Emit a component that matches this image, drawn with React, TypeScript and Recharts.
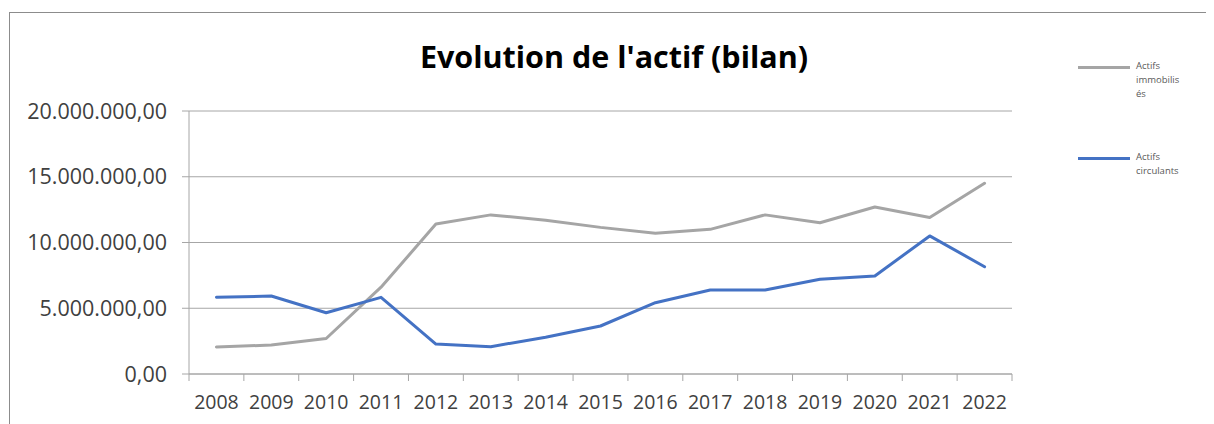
import React from "react";
import { LineChart, Line, XAxis, YAxis, CartesianGrid, Legend } from "recharts";

const years = ["2008", "2009", "2010", "2011", "2012", "2013", "2014", "2015", "2016", "2017", "2018", "2019", "2020", "2021", "2022"];
const actifsImmobilises = [2050000, 2200000, 2700000, 6600000, 11400000, 12100000, 11700000, 11150000, 10700000, 11000000, 12100000, 11500000, 12700000, 11900000, 14500000];
const actifsCirculants = [5830000, 5930000, 4660000, 5830000, 2280000, 2080000, 2800000, 3650000, 5420000, 6390000, 6390000, 7200000, 7450000, 10500000, 8160000];
const yTicks = [0, 5000000, 10000000, 15000000, 20000000];
const seriesOrder = ["immo", "circ"];

const GRID = "#a6a6a6";
const TEXT = "#404040";
const FONT = "'Open Sans', sans-serif";

const data = years.map((y, i) => ({
  idx: i,
  year: y,
  immo: actifsImmobilises[i],
  circ: actifsCirculants[i],
}));

// ticks at category centres (labels) and boundaries (tick marks)
const xTicks: number[] = [];
for (let i = 0; i <= years.length; i++) {
  xTicks.push(i - 0.5);
  if (i < years.length) xTicks.push(i);
}

const fmtY = (v: number) =>
  v.toLocaleString("de-DE", { minimumFractionDigits: 2, maximumFractionDigits: 2 });

function XTick(props: any) {
  const { x, y, payload } = props;
  const v = payload.value;
  if (Number.isInteger(v)) {
    return (
      <text x={x} y={y + 35} textAnchor="middle" fill={TEXT} fontSize={19.5} fontFamily={FONT}>
        {years[v]}
      </text>
    );
  }
  return <line x1={x} y1={y} x2={x} y2={y + 7} stroke={GRID} />;
}

function renderLegend(props: any) {
  const items = [...(props.payload || [])].sort(
    (a: any, b: any) => seriesOrder.indexOf(a.dataKey) - seriesOrder.indexOf(b.dataKey)
  );
  return (
    <div style={{ fontFamily: FONT }}>
      {items.map((p: any) => (
        <div key={p.value} style={{ display: "flex", alignItems: "flex-start", height: 91 }}>
          <div style={{ width: 52, height: 3, background: p.color, marginTop: 7 }} />
          <div
            style={{
              marginLeft: 6,
              width: 45,
              fontSize: 9.5,
              lineHeight: "14px",
              color: "#595959",
              overflowWrap: "anywhere",
            }}
          >
            {p.value}
          </div>
        </div>
      ))}
    </div>
  );
}

export default function App() {
  return (
    <div
      style={{
        position: "relative",
        marginLeft: 1,
        marginTop: 4,
        width: 1204,
        height: 411,
        borderTop: "1px solid #8c8c8c",
        borderLeft: "1px solid #8c8c8c",
        background: "#fff",
      }}
    >
      <div
        style={{
          position: "absolute",
          left: 0,
          top: 28,
          width: 1208,
          textAlign: "center",
          fontFamily: FONT,
          fontWeight: 700,
          fontSize: 30.5,
          lineHeight: "30px",
          color: "#000",
          zIndex: 1,
        }}
      >
        Evolution de l'actif (bilan)
      </div>
      <LineChart
        width={1204}
        height={411}
        data={data}
        margin={{ top: 98, right: 202, bottom: 0, left: 0 }}
      >
        <CartesianGrid horizontal vertical={false} stroke={GRID} />
        <XAxis
          dataKey="idx"
          type="number"
          domain={[-0.5, years.length - 0.5]}
          ticks={xTicks}
          interval={0}
          height={50}
          tickSize={0}
          tickMargin={0}
          tickLine={false}
          axisLine={{ stroke: GRID }}
          tick={<XTick />}
        />
        <YAxis
          width={179}
          domain={[0, 20000000]}
          ticks={yTicks}
          interval={0}
          tickSize={7}
          tickMargin={15}
          tickLine={{ stroke: GRID }}
          axisLine={{ stroke: GRID }}
          tickFormatter={fmtY}
          tick={{ fill: TEXT, fontSize: 21.5, fontFamily: FONT }}
        />
        <Legend
          layout="vertical"
          align="center"
          verticalAlign="middle"
          content={renderLegend}
          wrapperStyle={{ left: 1068, top: 46, width: 120 }}
        />
        <Line
          type="linear"
          dataKey="immo"
          name="Actifs immobilisés"
          stroke="#a5a5a5"
          strokeWidth={3}
          strokeLinecap="round"
          strokeLinejoin="round"
          dot={false}
          isAnimationActive={false}
        />
        <Line
          type="linear"
          dataKey="circ"
          name="Actifs circulants"
          stroke="#4472c4"
          strokeWidth={3}
          strokeLinecap="round"
          strokeLinejoin="round"
          dot={false}
          isAnimationActive={false}
        />
      </LineChart>
    </div>
  );
}
